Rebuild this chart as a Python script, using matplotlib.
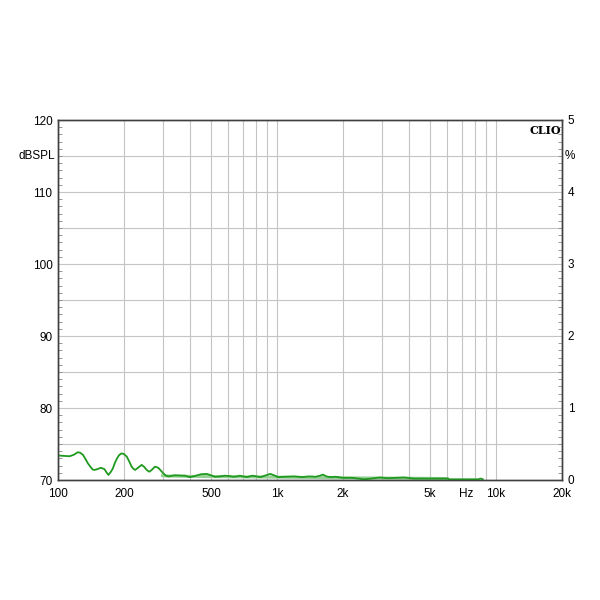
import matplotlib
matplotlib.use("Agg")
import matplotlib.pyplot as plt
import matplotlib.ticker as mticker

# frequency response (dBSPL)
freq = [100, 106, 113, 118, 123, 126, 130, 133, 137, 141, 144, 147, 151, 157,
        163, 167, 170, 174, 178, 182, 186, 190, 195, 200, 206, 212, 217, 221,
        225, 233, 241, 247, 254, 261, 268, 277, 287, 295, 303, 311, 319, 340,
        380, 400, 420, 450, 477, 500, 521, 550, 577, 605, 632, 655, 676, 700,
        728, 750, 772, 805, 838, 880, 930, 970, 1013, 1088, 1200, 1300, 1400,
        1500, 1570, 1620, 1680, 1750, 1850, 2000, 2200, 2500, 2700, 2950, 3200,
        3500, 3800, 4200, 5000, 6000, 6100, 7000, 8300, 8500, 8700]
spl = [73.4, 73.35, 73.3, 73.5, 73.85, 73.8, 73.5, 73.0, 72.3, 71.8, 71.45,
       71.4, 71.5, 71.7, 71.5, 71.0, 70.7, 71.1, 71.6, 72.4, 73.0, 73.45, 73.7,
       73.6, 73.25, 72.5, 71.85, 71.55, 71.4, 71.75, 72.1, 71.85, 71.4, 71.15,
       71.4, 71.85, 71.7, 71.3, 70.9, 70.6, 70.5, 70.65, 70.6, 70.4, 70.55,
       70.8, 70.85, 70.65, 70.45, 70.5, 70.6, 70.55, 70.45, 70.5, 70.6, 70.5,
       70.4, 70.5, 70.6, 70.5, 70.4, 70.6, 70.85, 70.65, 70.4, 70.45, 70.5,
       70.4, 70.5, 70.45, 70.6, 70.75, 70.5, 70.4, 70.45, 70.3, 70.3, 70.1,
       70.2, 70.35, 70.25, 70.3, 70.35, 70.2, 70.2, 70.2, 70.1, 70.1, 70.1,
       70.2, 70.1]

# light green trace running under the main one
freq_lo = [300, 320, 400, 600, 1000, 2000, 4000, 6000]
spl_lo = [70.6, 70.55, 70.5, 70.45, 70.4, 70.3, 70.25, 70.2]

xticks = [100, 200, 500, 1000, 2000, 5000, 7300, 10000, 20000]
xlabels = ["100", "200", "500", "1k", "2k", "5k", "Hz", "10k", "20k"]
yticks = [70, 80, 90, 100, 110, 120]
pticks = [0, 1, 2, 3, 4, 5]

GREEN = "#1f9a1f"
LIGHT = "#96d096"
GRID = "#c4c4c4"

plt.rcParams["font.family"] = ["Liberation Sans", "DejaVu Sans"]

fig = plt.figure(figsize=(6, 6), dpi=100)
ax = fig.add_axes([58 / 600, 120 / 600, 504 / 600, 360 / 600])

ax.set_xscale("log")
ax.set_xlim(100, 20000)
ax.set_ylim(70, 120)

# grid
gx = list(range(100, 1000, 100)) + list(range(1000, 10001, 1000)) + [20000]
for g in gx:
    ax.axvline(g, color=GRID, lw=0.8, zorder=0)
for g in range(75, 120, 5):
    ax.axhline(g, color=GRID, lw=0.8, zorder=0)

ax.plot(freq_lo, spl_lo, color=LIGHT, lw=2.2, zorder=2)
ax.plot(freq, spl, color=GREEN, lw=1.3, zorder=3)

ax.set_xticks(xticks)
ax.set_xticklabels(xlabels)
ax.xaxis.set_minor_locator(mticker.NullLocator())
ax.set_yticks(yticks)
ax.yaxis.set_minor_locator(mticker.MultipleLocator(1))
ax.tick_params(axis="x", length=0, labelsize=8.5, pad=6)
ax.tick_params(axis="y", which="major", direction="in", length=0, labelsize=8.5, pad=4)
ax.tick_params(axis="y", which="minor", direction="in", length=3, color="#888888")
ax.text(-0.005, 0.9, "dBSPL", transform=ax.transAxes, ha="right", va="center", fontsize=8.5)

for s in ax.spines.values():
    s.set_color("#404040")
    s.set_linewidth(1.0)

ax2 = ax.twinx()
ax2.set_ylim(0, 5)
ax2.set_yticks(pticks)
ax2.yaxis.set_minor_locator(mticker.MultipleLocator(0.1))
ax2.tick_params(axis="y", which="major", direction="in", length=0, labelsize=8.5, pad=4)
ax2.tick_params(axis="y", which="minor", direction="in", length=3, color="#888888")
ax2.text(1.005, 0.9, "%", transform=ax2.transAxes, ha="left", va="center", fontsize=8.5)
for s in ax2.spines.values():
    s.set_color("#404040")
    s.set_linewidth(1.0)

ax.text(0.998, 0.985, "CLIO", transform=ax.transAxes, ha="right", va="top",
        fontsize=8, fontweight="bold", family="DejaVu Serif")

fig.savefig("out.png", dpi=100, facecolor="white")
